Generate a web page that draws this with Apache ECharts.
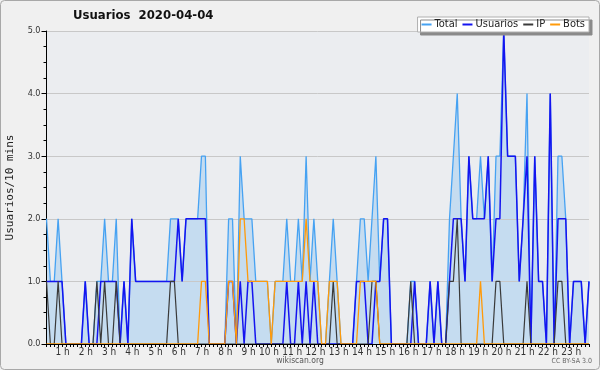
<!DOCTYPE html>
<html><head><meta charset="utf-8">
<script src="https://cdn.jsdelivr.net/npm/echarts@6/dist/echarts.min.js"></script>
<style>html,body{margin:0;padding:0;background:#f0f0f0}#c{width:600px;height:370px}</style>
</head><body><div id="c"></div>
<script>
// 10-minute slots, 00:00 .. 23:20 (141 points shown)
const slotCount = 141;
const categories = [];
for (let i = 0; i < slotCount; i++) {
  const h = Math.floor(i / 6), m = (i % 6) * 10;
  categories.push((h < 10 ? '0' : '') + h + ':' + (m < 10 ? '0' : '') + m);
}
const hourLabels = ['1 h','2 h','3 h','4 h','5 h','6 h','7 h','8 h','9 h','10 h','11 h','12 h','13 h','14 h','15 h','16 h','17 h','18 h','19 h','20 h','21 h','22 h','23 h'];
const yTicks = ['0.0','1.0','2.0','3.0','4.0','5.0'];

const total = [
 2,1,1,2,1,0,0,0,0,0,
 1,0,0,1,1,2,1,1,2,0,
 1,0,2,1,1,1,1,1,1,1,
 1,1,2,2,2,1,2,2,2,2,
 3,3,0,0,0,0,0,2,2,0,
 3,2,2,2,1,1,1,1,0,1,
 1,1,2,1,1,2,1,3,1,2,
 1,0,0,1,2,1,0,0,0,0,
 1,2,2,1,2,3,1,2,2,0,
 0,0,0,0,1,1,0,0,0,1,
 0,1,0,0,2,3,4,2,1,3,
 2,2,3,2,3,1,3,3,5,3,
 3,3,1,2,4,0,3,1,1,0,
 4,0,3,3,2,0,1,1,1,0,
 1];
const usuarios = [
 1,1,1,1,1,0,0,0,0,0,
 1,0,0,0,1,1,1,1,1,0,
 1,0,2,1,1,1,1,1,1,1,
 1,1,1,1,2,1,2,2,2,2,
 2,2,0,0,0,0,0,1,1,0,
 1,0,1,1,0,0,0,0,0,0,
 0,0,1,0,0,1,0,1,0,1,
 0,0,0,0,0,0,0,0,0,0,
 1,1,1,0,0,1,1,2,2,0,
 0,0,0,0,0,1,0,0,0,1,
 0,1,0,0,1,2,2,2,1,3,
 2,2,2,2,3,1,2,2,5,3,
 3,3,1,2,3,0,3,1,1,0,
 4,0,2,2,2,0,1,1,1,0,
 1];
const ip = [
 1,0,0,1,0,0,0,0,0,0,
 0,0,0,1,0,1,0,0,1,0,
 0,0,0,0,0,0,0,0,0,0,
 0,0,1,1,0,0,0,0,0,0,
 0,0,0,0,0,0,0,0,0,0,
 0,0,0,0,0,0,0,0,0,0,
 0,0,0,0,0,0,0,0,0,0,
 0,0,0,0,1,0,0,0,0,0,
 0,0,0,0,1,1,0,0,0,0,
 0,0,0,0,1,0,0,0,0,0,
 0,0,0,0,1,1,2,0,0,0,
 0,0,0,0,0,0,1,1,0,0,
 0,0,0,0,1,0,0,0,0,0,
 0,0,1,1,0,0,0,0,0,0,
 0];
const bots = [
 0,0,0,0,0,0,0,0,0,0,
 0,0,0,0,0,0,0,0,0,0,
 0,0,0,0,0,0,0,0,0,0,
 0,0,0,0,0,0,0,0,0,0,
 1,1,0,0,0,0,0,1,1,0,
 2,2,1,1,1,1,1,1,0,1,
 1,1,1,1,1,1,1,2,1,1,
 1,0,0,1,1,1,0,0,0,0,
 0,1,1,1,1,1,0,0,0,0,
 0,0,0,0,0,0,0,0,0,0,
 0,0,0,0,0,0,0,0,0,0,
 0,0,1,0,0,0,0,0,0,0,
 0,0,0,0,0,0,0,0,0,0,
 0,0,0,0,0,0,0,0,0,0,
 0];

const colTotal = '#46a2f2', colUsu = '#1414f0', colIP = '#3a3a3a', colBots = '#ff9a0a';
const cond = 'DejaVu Sans Condensed, DejaVu Sans';
const chart = echarts.init(document.getElementById('c'), null, {renderer: 'canvas'});
chart.setOption({
  backgroundColor: '#f0f0f0',
  animation: false,
  title: {
    text: 'Usuarios  2020-04-04', left: 73, top: 9, padding: 0,
    textStyle: {fontFamily: cond, fontWeight: 'bold', fontSize: 13, color: '#111'}
  },
  graphic: [
    {type: 'rect', z: -10, silent: true, shape: {x: 0.5, y: 0.5, width: 599, height: 369, r: 4}, style: {fill: 'none', stroke: '#a8a8a8', lineWidth: 1}},
    {type: 'text', z: 6, silent: true, left: 'center', top: 356, style: {text: 'wikiscan.org', fontFamily: cond, fontSize: 8.5, fill: '#555'}},
    {type: 'text', z: 6, silent: true, right: 8, top: 358, style: {text: 'CC BY-SA 3.0', fontFamily: cond, fontSize: 7, fill: '#666'}}
  ],
  legend: {
    z: 20, right: 11, top: 17, itemGap: 5, itemWidth: 10, itemHeight: 2, icon: 'rect',
    padding: [2, 4, 2, 4],
    backgroundColor: '#ffffff', borderColor: '#b0b0b0', borderWidth: 1,
    shadowColor: '#8a8a8a', shadowOffsetX: 3, shadowOffsetY: 3, shadowBlur: 0,
    textStyle: {fontFamily: cond, fontSize: 11, color: '#222', padding: [0, 0, 0, -2]},
    data: ['Total', 'Usuarios', 'IP', 'Bots']
  },
  grid: {left: 46.5, right: 11, top: 31, bottom: 26, show: true, backgroundColor: '#ebedf0', borderWidth: 0,
         containLabel: false, outerBoundsMode: 'none'},
  xAxis: {
    type: 'category', data: categories, boundaryGap: false, z: 10,
    axisLine: {lineStyle: {color: '#000', width: 1}},
    axisTick: {interval: 0, length: 3, lineStyle: {color: '#000'}},
    axisLabel: {
      interval: function (i) { return i > 0 && i % 6 === 0; },
      formatter: function (v, i) { return hourLabels[i / 6 - 1]; },
      fontFamily: cond, fontSize: 10, color: '#333', margin: 3,
      align: 'right', padding: 0
    },
    splitLine: {show: false}
  },
  yAxis: {
    type: 'value', min: 0, max: 5, interval: 1, z: 2,
    name: 'Usuarios/10 mins', nameLocation: 'middle', nameGap: 31, nameRotate: 90,
    nameTextStyle: {fontFamily: 'DejaVu Sans Mono', fontSize: 11, color: '#222'},
    axisLine: {show: true, lineStyle: {color: '#000', width: 1}},
    axisTick: {show: true, length: 5, lineStyle: {color: '#000'}},
    minorTick: {show: true, splitNumber: 4, length: 3, lineStyle: {color: '#000'}},
    axisLabel: {formatter: function (v) { return yTicks[Math.round(v)]; }, fontFamily: cond, fontSize: 9, color: '#333', margin: 6},
    splitLine: {show: true, lineStyle: {color: '#c8c8c8', width: 1}}
  },
  series: [
    {name: 'TotalArea', type: 'line', data: total, symbol: 'none', z: 1,
     lineStyle: {width: 0, opacity: 0}, itemStyle: {color: colTotal},
     areaStyle: {color: '#c5dcf0', opacity: 1}},
    {name: 'Total', type: 'line', data: total, symbol: 'none', z: 3,
     itemStyle: {color: colTotal}, lineStyle: {color: colTotal, width: 1.3}},
    {name: 'Usuarios', type: 'line', data: usuarios, symbol: 'none', z: 4,
     itemStyle: {color: colUsu}, lineStyle: {color: colUsu, width: 1.5}},
    {name: 'IP', type: 'line', data: ip, symbol: 'none', z: 5,
     itemStyle: {color: colIP}, lineStyle: {color: colIP, width: 1.2}},
    {name: 'Bots', type: 'line', data: bots, symbol: 'none', z: 6,
     itemStyle: {color: colBots}, lineStyle: {color: colBots, width: 1.3}}
  ]
});
</script></body></html>
